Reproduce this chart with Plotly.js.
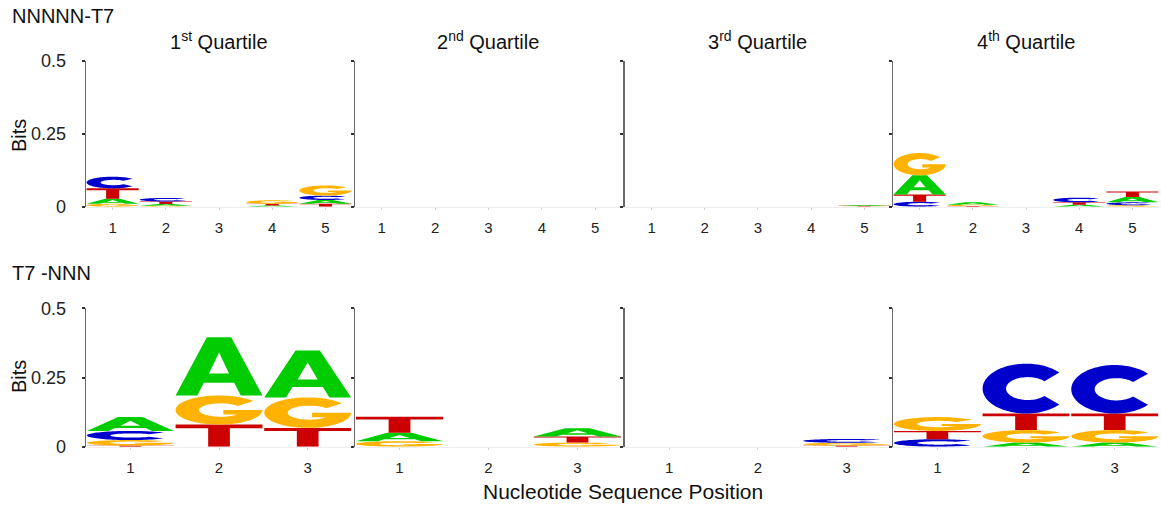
<!DOCTYPE html>
<html>
<head>
<meta charset="utf-8">
<script src="https://cdn.plot.ly/plotly-3.0.1.min.js"></script>
<style>html,body{margin:0;padding:0;background:#fff}#chart{width:1161px;height:506px}</style>
</head>
<body>
<div id="chart"></div>
<script>
// ---------------- DATA ----------------
const letters = ['A', 'C', 'G', 'T'];
const rowTitles = ['NNNNN-T7', 'T7 -NNN'];
const quartileTitles = ['1<sup>st</sup> Quartile', '2<sup>nd</sup> Quartile', '3<sup>rd</sup> Quartile', '4<sup>th</sup> Quartile'];
const topPositions = [1, 2, 3, 4, 5];
const bottomPositions = [1, 2, 3];
const yTickVals = [0, 0.25, 0.5];
const yTickText = ['0', '0.25', '0.5'];
const xTitle = 'Nucleotide Sequence Position';
const yTitle = 'Bits';

// Top row (NNNNN-T7): information (bits) per letter, one inner array per quartile, values by position 1..5
const topA = [[0.017, 0.006, 0, 0.004, 0.013], [0, 0, 0, 0, 0], [0, 0, 0, 0, 0.003], [0.066, 0.008, 0, 0.007, 0.018]];
const topC = [[0.040, 0.012, 0, 0, 0.015], [0, 0, 0, 0, 0], [0, 0, 0, 0, 0], [0.017, 0, 0, 0.016, 0.010]];
const topG = [[0.010, 0.003, 0, 0.012, 0.035], [0, 0, 0, 0, 0], [0, 0, 0, 0, 0.001], [0.076, 0.005, 0, 0, 0.005]];
const topT = [[0.036, 0.009, 0, 0.006, 0.010], [0, 0, 0, 0, 0], [0, 0, 0, 0, 0.002], [0.025, 0.002, 0, 0.008, 0.019]];

// Bottom row (T7 -NNN): values by position 1..3
const botA = [[0.050, 0.210, 0.170], [0.030, 0, 0.030], [0, 0, 0], [0, 0.015, 0.015]];
const botC = [[0.033, 0, 0], [0, 0, 0], [0, 0, 0.014], [0.027, 0.180, 0.175]];
const botG = [[0.020, 0.105, 0.110], [0.020, 0, 0.015], [0, 0, 0.010], [0.050, 0.045, 0.045]];
const botT = [[0.004, 0.080, 0.068], [0.058, 0, 0.022], [0, 0, 0.004], [0.030, 0.060, 0.060]];

// ---------------- STYLE ----------------
const letterColors = { A: 'rgb(0,204,0)', C: 'rgb(0,0,204)', G: 'rgb(255,179,0)', T: 'rgb(204,0,0)' };
const FONT = '"Liberation Sans", Arial, Helvetica, sans-serif';
const W = 1161, H = 506;
const xDomains = [[0.0741, 0.3032], [0.3058, 0.5357], [0.5383, 0.7674], [0.7692, 0.9983]];
const yDomains = [[0.5915, 0.8794], [0.1172, 0.3907]];
const letterWidth = 0.98;

// ---------------- GLYPHS (unit box) ----------------
function arc(cx, cy, rx, ry, a0, a1, n) {
  const pts = [];
  for (let i = 0; i <= n; i++) {
    const a = (a0 + (a1 - a0) * i / n) * Math.PI / 180;
    pts.push([cx + rx * Math.cos(a), cy + ry * Math.sin(a)]);
  }
  return pts;
}
const glyphs = {
  A: [
    [[0, 0], [0.36, 1], [0.64, 1], [1, 0], [0.75, 0], [0.675, 0.22], [0.325, 0.22], [0.25, 0]],
    [[0.385, 0.38], [0.5, 0.74], [0.615, 0.38]]
  ],
  T: [
    [[0, 1], [1, 1], [1, 0.83], [0.625, 0.83], [0.625, 0], [0.375, 0], [0.375, 0.83], [0, 0.83]]
  ],
  C: [
    arc(0.5, 0.5, 0.5, 0.5, 40, 320, 72).concat(arc(0.52, 0.5, 0.25, 0.23, 320, 40, 72))
  ],
  G: [
    arc(0.5, 0.5, 0.5, 0.5, 38, 360, 80)
      .concat([[0.55, 0.5], [0.55, 0.35]])
      .concat(arc(0.52, 0.5, 0.25, 0.23, 318, 38, 72))
  ]
};

function glyphPath(letter, xc, y0, h) {
  const x0 = xc - letterWidth / 2;
  return glyphs[letter].map(poly =>
    'M' + poly.map(p => (x0 + p[0] * letterWidth).toFixed(5) + ',' + (y0 + p[1] * h).toFixed(6)).join('L') + 'Z'
  ).join('');
}

// ---------------- BUILD ----------------
const traces = [];
const shapes = [];
const annotations = [];
const layout = {
  width: W, height: H,
  margin: { l: 0, r: 0, t: 0, b: 0 },
  paper_bgcolor: '#ffffff', plot_bgcolor: '#ffffff',
  showlegend: false,
  font: { family: FONT, color: '#111' }
};

const rows = [
  { positions: topPositions, data: { A: topA, C: topC, G: topG, T: topT } },
  { positions: bottomPositions, data: { A: botA, C: botC, G: botG, T: botT } }
];

rows.forEach((row, r) => {
  for (let q = 0; q < 4; q++) {
    const k = r * 4 + q + 1;
    const xn = k === 1 ? 'x' : 'x' + k;
    const yn = k === 1 ? 'y' : 'y' + k;
    const xl = k === 1 ? 'xaxis' : 'xaxis' + k;
    const yl = k === 1 ? 'yaxis' : 'yaxis' + k;
    const pos = row.positions;
    const totals = pos.map((p, i) => letters.reduce((s, L) => s + row.data[L][q][i], 0));
    traces.push({
      type: 'scatter', mode: 'markers', x: pos, y: totals, xaxis: xn, yaxis: yn,
      marker: { opacity: 0, size: 1 }, hoverinfo: 'skip', showlegend: false
    });
    // stacked letters: smallest at bottom
    pos.forEach((p, i) => {
      const stack = letters.map(L => ({ L, v: row.data[L][q][i] }))
        .filter(o => o.v > 0.0005)
        .sort((a, b) => a.v - b.v);
      let base = 0;
      stack.forEach(o => {
        shapes.push({
          type: 'path', xref: xn, yref: yn, layer: 'above',
          path: glyphPath(o.L, p, base, o.v),
          fillcolor: letterColors[o.L], fillrule: 'evenodd',
          line: { width: 0 }
        });
        base += o.v;
      });
    });
    layout[xl] = {
      domain: xDomains[q], anchor: yn,
      range: [0.5, pos.length + 0.5],
      tickvals: pos, ticktext: pos.map(String),
      showgrid: false, zeroline: false,
      showline: true, linecolor: '#eeeeee', linewidth: 1,
      ticks: 'outside', ticklen: 2, tickcolor: '#d0d0d0', tickwidth: 1,
      ticklabelstandoff: 5,
      tickfont: { size: 15, family: FONT, color: '#222' },
      fixedrange: true
    };
    layout[yl] = {
      domain: yDomains[r], anchor: xn,
      range: [0, 0.5],
      tickvals: yTickVals, ticktext: yTickText,
      showticklabels: q === 0,
      showgrid: false, zeroline: false,
      showline: true, linecolor: '#6a6a6a', linewidth: 1.5,
      ticks: 'outside', ticklen: 3, tickwidth: 2, tickcolor: '#333',
      ticklabelstandoff: 12,
      tickfont: { size: 18, family: FONT, color: '#222' },
      fixedrange: true
    };
  }
  // row title
  annotations.push({
    xref: 'paper', yref: 'paper', x: 10 / W, y: 1 - (r === 0 ? 16 : 273) / H,
    xanchor: 'left', yanchor: 'middle', showarrow: false,
    text: rowTitles[r], font: { size: 20, family: FONT, color: '#111' }
  });
  // y axis title
  annotations.push({
    xref: 'paper', yref: 'paper', x: 19 / W, y: 1 - (r === 0 ? 136 : 377) / H,
    xanchor: 'center', yanchor: 'middle', showarrow: false, textangle: -90,
    text: yTitle, font: { size: 20, family: FONT, color: '#111' }
  });
});

quartileTitles.forEach((t, q) => {
  annotations.push({
    xref: 'paper', yref: 'paper', x: (xDomains[q][0] + xDomains[q][1]) / 2, y: 1 - 41 / H,
    xanchor: 'center', yanchor: 'middle', showarrow: false,
    text: t, font: { size: 20, family: FONT, color: '#111' }
  });
});

annotations.push({
  xref: 'paper', yref: 'paper', x: 623 / W, y: 1 - 491 / H,
  xanchor: 'center', yanchor: 'middle', showarrow: false,
  text: xTitle, font: { size: 21, family: FONT, color: '#111' }
});

layout.shapes = shapes;
layout.annotations = annotations;

Plotly.newPlot('chart', traces, layout, { staticPlot: true, displayModeBar: false });
</script>
</body>
</html>
